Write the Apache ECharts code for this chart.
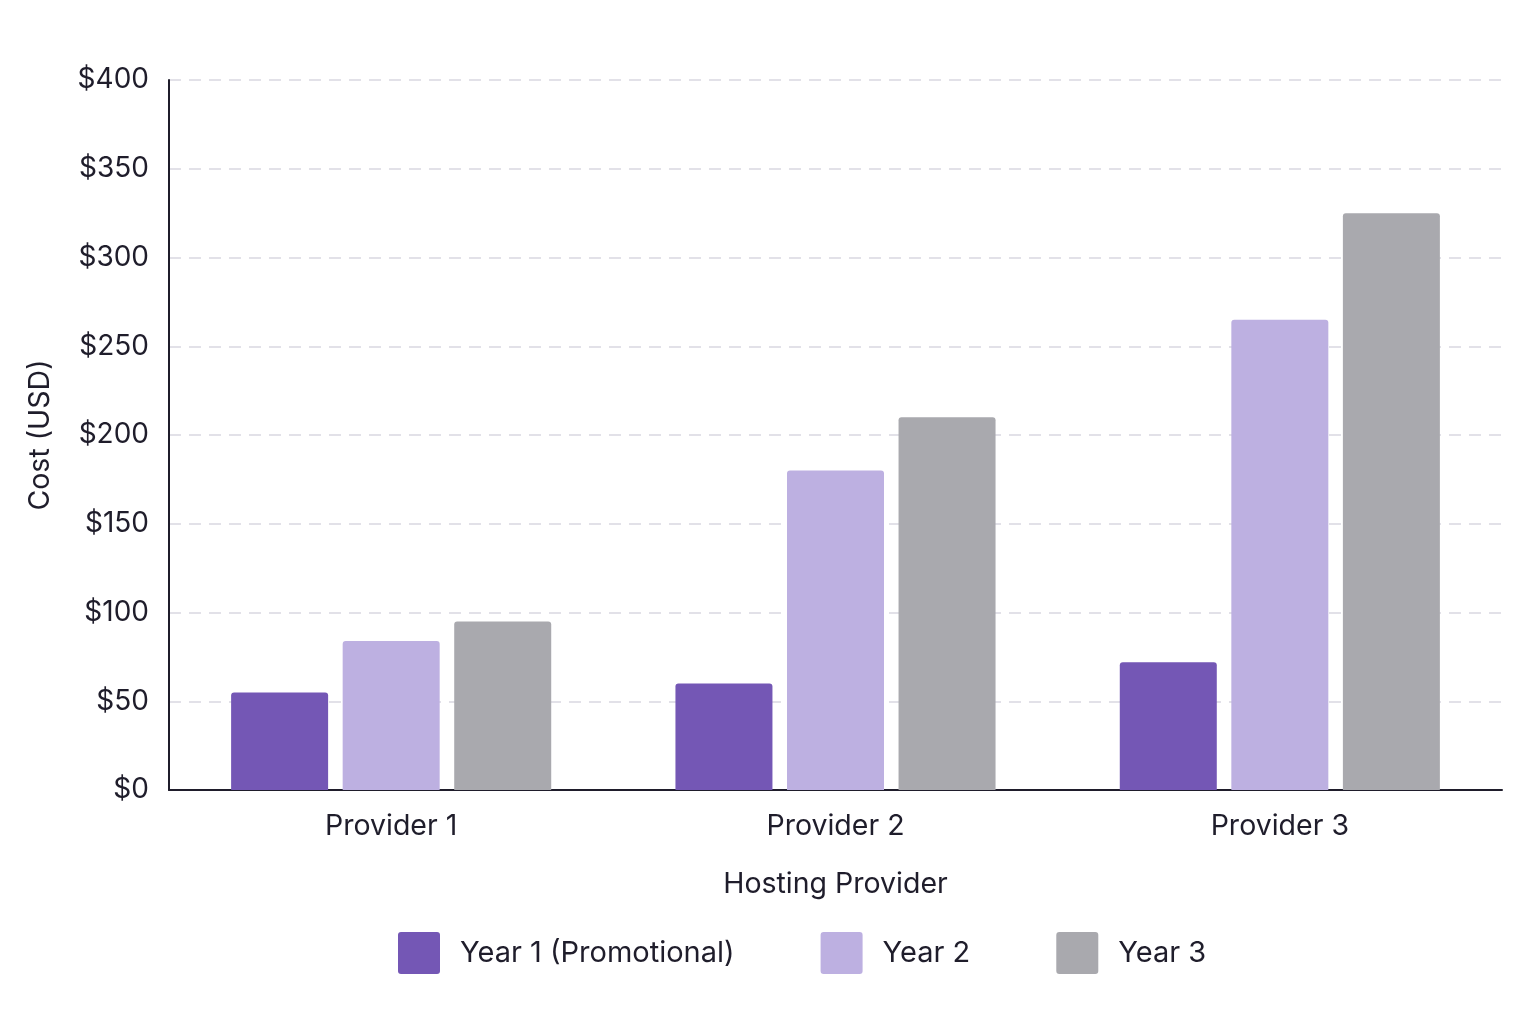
<!DOCTYPE html>
<html>
<head>
<meta charset="utf-8">
<script src="https://cdn.jsdelivr.net/npm/echarts@6/dist/echarts.min.js"></script>
<style>
  html, body { margin: 0; padding: 0; background: #fff; }
  #chart { width: 1536px; height: 1024px; }
</style>
</head>
<body>
<div id="chart"></div>
<script>
  // 数据
  const providers = ['Provider 1', 'Provider 2', 'Provider 3']
  const year1 = [55, 60, 72]
  const year2 = [84, 180, 265]
  const year3 = [95, 210, 325]
  const seriesNames = ['Year 1 (Promotional)', 'Year 2', 'Year 3']
  const colors = ['#7457b5', '#bdb0e1', '#a9a9ae']

  const chart = echarts.init(document.getElementById('chart'))
  const font = 'Inter, "Noto Sans", sans-serif'
  const textColor = '#1f1d2b'
  // 小圆角方块图例
  const legendIcon = 'path://M3,0 H39 A3,3 0 0 1 42,3 V39 A3,3 0 0 1 39,42 H3 A3,3 0 0 1 0,39 V3 A3,3 0 0 1 3,0 Z'

  chart.setOption({
    animation: false,
    textStyle: { fontFamily: font },
    grid: { left: 169, right: 34, top: 80, bottom: 234 },
    legend: {
      left: 398,
      top: 932,
      padding: 0,
      itemWidth: 42,
      itemHeight: 42,
      itemGap: 86,
      icon: legendIcon,
      textStyle: { fontSize: 29, color: textColor, fontFamily: font, padding: [0, 0, 0, 15] },
      data: seriesNames
    },
    xAxis: {
      type: 'category',
      data: providers,
      name: 'Hosting Provider',
      nameLocation: 'middle',
      nameGap: 80,
      nameTextStyle: { fontSize: 28.5, color: textColor },
      axisLine: { lineStyle: { color: '#1f1d2b', width: 2 } },
      axisTick: { show: false },
      axisLabel: { fontSize: 28.5, color: textColor, margin: 22 }
    },
    yAxis: {
      type: 'value',
      min: 0,
      max: 400,
      interval: 50,
      name: 'Cost (USD)',
      nameLocation: 'middle',
      nameGap: 114,
      nameTextStyle: { fontSize: 28.5, color: textColor },
      axisLine: { show: true, lineStyle: { color: '#1f1d2b', width: 2 } },
      axisTick: { show: false },
      axisLabel: { fontSize: 28, color: textColor, margin: 20, formatter: '${value}' },
      splitLine: { lineStyle: { color: '#e2e1e8', type: [12, 8], width: 2 } }
    },
    series: [
      { name: seriesNames[0], type: 'bar', data: year1, barWidth: 97, barGap: '15%',
        itemStyle: { color: colors[0], borderRadius: [3, 3, 0, 0] } },
      { name: seriesNames[1], type: 'bar', data: year2, barWidth: 97, barGap: '15%',
        itemStyle: { color: colors[1], borderRadius: [3, 3, 0, 0] } },
      { name: seriesNames[2], type: 'bar', data: year3, barWidth: 97, barGap: '15%',
        itemStyle: { color: colors[2], borderRadius: [3, 3, 0, 0] } }
    ]
  })
</script>
</body>
</html>
